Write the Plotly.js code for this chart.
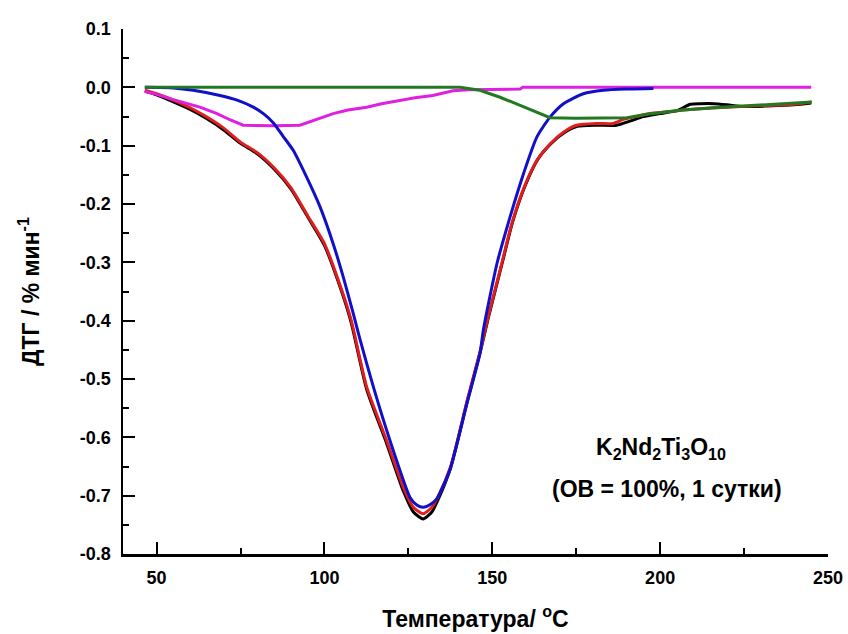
<!DOCTYPE html>
<html>
<head>
<meta charset="utf-8">
<script src="https://cdn.plot.ly/plotly-3.0.1.min.js"></script>
<style>html,body{margin:0;padding:0;background:#fff;}#chart{width:848px;height:634px;}</style>
</head>
<body>
<div id="chart"></div>
<script>
// Temperature (°C) and DTG (% / min) series
var blackX = [46.5, 50, 55, 60, 65, 70, 75, 80, 85, 90, 95, 100, 105, 108, 112.6, 118.5, 123.5, 126.5, 129.4, 132, 134, 137.6, 142.6, 146.5, 148.7, 153.1, 156, 159.7, 163.5, 167.4, 171.4, 175.3, 181, 187, 191, 195, 200, 205, 209, 212, 216, 220, 225, 232, 240, 245];
var blackY = [-0.006, -0.013, -0.025, -0.038, -0.054, -0.073, -0.096, -0.114, -0.140, -0.174, -0.222, -0.271, -0.348, -0.404, -0.518, -0.610, -0.692, -0.728, -0.740, -0.728, -0.705, -0.652, -0.537, -0.452, -0.398, -0.298, -0.232, -0.170, -0.124, -0.097, -0.078, -0.067, -0.065, -0.065, -0.058, -0.050, -0.045, -0.040, -0.029, -0.028, -0.028, -0.030, -0.033, -0.032, -0.030, -0.027];

var redX = [46.5, 50, 55, 60, 65, 70, 75, 80, 85, 90, 95, 100, 105, 108, 112.6, 118.5, 123.5, 126.5, 129.4, 132, 134, 137.6, 142.6, 146.5, 148.5, 152.9, 155.8, 159.5, 163.3, 167.2, 171.2, 175.1, 181, 186, 189, 193, 197, 202, 206.8, 210.7, 219.7, 231.6, 240, 245];
var redY = [-0.005, -0.011, -0.022, -0.035, -0.051, -0.070, -0.094, -0.112, -0.138, -0.172, -0.220, -0.268, -0.345, -0.400, -0.514, -0.605, -0.686, -0.720, -0.731, -0.720, -0.700, -0.650, -0.535, -0.450, -0.400, -0.300, -0.234, -0.171, -0.125, -0.097, -0.077, -0.065, -0.062, -0.062, -0.055, -0.050, -0.045, -0.042, -0.039, -0.037, -0.034, -0.031, -0.029, -0.025];

var blueX = [46.5, 55, 60.9, 68.9, 74, 78.8, 82, 84.8, 87.7, 90.7, 94.7, 98.7, 102.6, 105.6, 108.6, 110.5, 114.6, 119.5, 125.5, 127.5, 129.4, 131.3, 133.4, 137.4, 142.4, 146.3, 147.4, 151.4, 155.3, 159.3, 163.3, 167.2, 171.2, 177.1, 183.1, 190, 198];
var blueY = [0.000, -0.001, -0.005, -0.014, -0.022, -0.034, -0.046, -0.061, -0.084, -0.108, -0.154, -0.205, -0.268, -0.325, -0.388, -0.430, -0.514, -0.605, -0.703, -0.716, -0.720, -0.716, -0.706, -0.655, -0.543, -0.457, -0.414, -0.302, -0.222, -0.148, -0.085, -0.051, -0.028, -0.011, -0.005, -0.003, -0.002];

var magentaX = [46.5, 50, 55, 62.9, 68, 72, 75.8, 80, 85, 92.7, 97, 102.6, 107, 112.6, 117, 122.5, 127, 132.3, 138.3, 143, 150, 158.3, 159, 200, 245];
var magentaY = [-0.007, -0.012, -0.021, -0.034, -0.045, -0.056, -0.065, -0.066, -0.066, -0.065, -0.056, -0.045, -0.039, -0.034, -0.028, -0.022, -0.018, -0.014, -0.006, -0.004, -0.003, -0.003, 0.000, 0.000, 0.000];

var greenX = [46.5, 100, 140.4, 146.3, 152.3, 158.3, 164.2, 167.2, 175, 185, 190.1, 196, 206.8, 216, 226.8, 236, 245.2];
var greenY = [0.000, 0.000, 0.000, -0.005, -0.017, -0.031, -0.045, -0.052, -0.053, -0.053, -0.052, -0.046, -0.039, -0.035, -0.031, -0.028, -0.025];

var xTickVals = [50, 100, 150, 200, 250];
var yTickVals = [0.1, 0.0, -0.1, -0.2, -0.3, -0.4, -0.5, -0.6, -0.7, -0.8];
var yTickText = ['0.1', '0.0', '-0.1', '-0.2', '-0.3', '-0.4', '-0.5', '-0.6', '-0.7', '-0.8'];

function tr(x, y, c, smooth) {
  var line = {color: c, width: 3};
  if (smooth) { line.shape = 'spline'; line.smoothing = 0.6; }
  return {x: x, y: y, type: 'scatter', mode: 'lines', line: line, showlegend: false, hoverinfo: 'skip'};
}
var data = [
  tr(blackX, blackY, '#000000', true),
  tr(redX, redY, '#e01e1e', true),
  tr(magentaX, magentaY, '#e020e0', false),
  tr(blueX, blueY, '#1010c8', true),
  tr(greenX, greenY, '#217a21', false)
];

var layout = {
  width: 848, height: 634,
  margin: {l: 123, r: 20, t: 29, b: 80},
  paper_bgcolor: '#ffffff', plot_bgcolor: '#ffffff',
  font: {family: 'Liberation Sans, Arial, sans-serif', color: '#000', size: 18, weight: 'bold'},
  showlegend: false,
  xaxis: {
    range: [40, 250], showgrid: false, zeroline: false,
    showline: true, linecolor: '#000', linewidth: 2.5, mirror: false,
    ticks: 'inside', ticklen: 12, tickwidth: 2, tickcolor: '#000',
    tickvals: xTickVals, ticklabelstandoff: 6,
    tickfont: {size: 18, weight: 'bold'},
    minor: {dtick: 25, tick0: 0, ticks: 'inside', ticklen: 6, tickwidth: 2, tickcolor: '#000', showgrid: false},
    title: {text: 'Температура/ <sup>o</sup>C', font: {size: 23, weight: 'bold'}, standoff: 24}
  },
  yaxis: {
    range: [-0.8, 0.1], showgrid: false, zeroline: false,
    showline: true, linecolor: '#000', linewidth: 2.5, mirror: false,
    ticks: 'inside', ticklen: 12, tickwidth: 2, tickcolor: '#000',
    tickvals: yTickVals, ticktext: yTickText, ticklabelstandoff: 6,
    tickfont: {size: 18, weight: 'bold'},
    minor: {dtick: 0.05, tick0: 0, ticks: 'inside', ticklen: 6, tickwidth: 2, tickcolor: '#000', showgrid: false},
    title: {text: 'ДТГ / % мин<sup>-1</sup>', font: {size: 23, weight: 'bold'}, standoff: 34}
  },
  annotations: [
    {x: 200.3, y: -0.619, xref: 'x', yref: 'y', showarrow: false,
     text: 'K<sub>2</sub>Nd<sub>2</sub>Ti<sub>3</sub>O<sub>10</sub>', font: {size: 23, weight: 'bold'}},
    {x: 202.0, y: -0.688, xref: 'x', yref: 'y', showarrow: false,
     text: '(ОВ = 100%, 1 сутки)', font: {size: 23, weight: 'bold'}}
  ]
};
Plotly.newPlot('chart', data, layout, {displayModeBar: false, staticPlot: true});
</script>
</body>
</html>
